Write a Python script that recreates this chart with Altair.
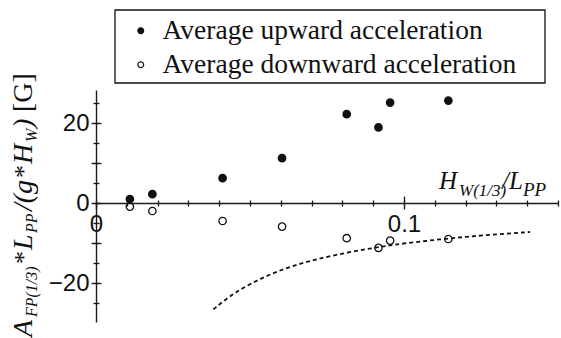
import altair as alt
import pandas as pd

# ---- data ----
series_names = ["Average upward acceleration", "Average downward acceleration"]
x_pts = [0.011, 0.0183, 0.0411, 0.0604, 0.0814, 0.0917, 0.0955, 0.1144]
y_up = [1.0, 2.2, 6.2, 11.2, 22.2, 18.9, 25.1, 25.6]
y_down = [-0.9, -2.0, -4.5, -5.9, -8.8, -11.2, -9.4, -9.0]
line_x = [0.0381, 0.0446, 0.0554, 0.0662, 0.0771, 0.0917, 0.0998, 0.1138, 0.1268, 0.1409]
line_y = [-26.6, -22.5, -18.0, -15.1, -13.0, -11.0, -10.1, -8.9, -8.0, -7.25]
x_minor_ticks = [round(i * 0.01, 2) for i in range(0, 16)]
x_major_ticks = [0.0, 0.1]
y_minor_ticks = [-25, -20, -15, -10, -5, 0, 5, 10, 15, 20, 25]
y_major_ticks = [-20, -10, 0, 10, 20]
x_domain = [0, 0.15]
y_domain = [-29.75, 28.25]

pts = pd.DataFrame({
    "x": x_pts + x_pts,
    "y": y_up + y_down,
    "series": [series_names[0]] * len(x_pts) + [series_names[1]] * len(x_pts),
})
curve = pd.DataFrame({"x": line_x, "y": line_y})

W, H = 462, 232
OX, OY = 96, 90  # plot origin in page pixels
X0 = 203 - OY   # pixel row of y=0 inside plot

xs = alt.Scale(domain=x_domain, nice=False, zero=False)
ys = alt.Scale(domain=y_domain, nice=False, zero=False)

AX = dict(grid=False, title=None, domainColor="#1a1a1a", tickColor="#1a1a1a",
          domainWidth=1.4, tickWidth=1.3, labelOverlap=False, labelFlush=False)

xa_minor_bottom = alt.Axis(orient="bottom", offset=-(H - X0), values=x_minor_ticks, tickSize=3,
                           labels=False, domain=True, **AX)
xa_minor_top = alt.Axis(orient="top", offset=-X0, values=x_minor_ticks, tickSize=3,
                        labels=False, domain=False, **AX)
xa_major_bottom = alt.Axis(orient="bottom", offset=-(H - X0), values=x_major_ticks, tickSize=6,
                           labels=True, domain=False, labelPadding=3,
                           labelFont="Liberation Sans", labelFontSize=24, labelColor="#111",
                           labelAlign="center",
                           labelExpr="datum.value == 0 ? '0' : (abs(datum.value - 0.1) < 1e-9 ? '0.1' : '')",
                           **AX)
xa_major_top = alt.Axis(orient="top", offset=-X0, values=[0.1], tickSize=7,
                        labels=False, domain=False, **AX)

ya_minor_left = alt.Axis(orient="left", values=y_minor_ticks, tickSize=3, labels=False, domain=True, **AX)
ya_major_left = alt.Axis(orient="left", values=y_major_ticks, tickSize=5, labels=True, domain=False,
                         labelPadding=2, labelFont="Liberation Sans", labelFontSize=24, labelColor="#111",
                         labelExpr="datum.value == 0 ? '0' : (datum.value == 20 ? '20' : (datum.value == -20 ? '\u221220' : ''))",
                         **AX)
ya_minor_right = alt.Axis(orient="right", offset=-W, values=y_minor_ticks, tickSize=3, labels=False,
                          domain=False, **AX)
ya_major_right = alt.Axis(orient="right", offset=-W, values=y_major_ticks, tickSize=5, labels=False,
                          domain=False, **AX)

line = alt.Chart(curve).mark_line(color="#111", strokeWidth=1.8, strokeDash=[4, 3],
                                  interpolate="basis").encode(
    x=alt.X("x:Q", scale=xs, axis=xa_minor_top),
    y=alt.Y("y:Q", scale=ys, axis=ya_minor_right),
)

points = alt.Chart(pts).mark_point(shape="circle", size=55, stroke="#111", strokeWidth=1.3,
                                   filled=False, opacity=1).encode(
    x=alt.X("x:Q", scale=xs, axis=xa_minor_bottom),
    y=alt.Y("y:Q", scale=ys, axis=ya_minor_left),
    fill=alt.Fill("series:N",
                  scale=alt.Scale(domain=series_names, range=["#111", "transparent"]),
                  legend=alt.Legend(title=None, orient="none", legendX=31, legendY=-73,
                                    labelFont="Liberation Serif", labelFontSize=27.5,
                                    labelColor="#111", labelLimit=600, symbolType="circle",
                                    symbolSize=34, symbolStrokeColor="#111", symbolStrokeWidth=1.2,
                                    labelOffset=8, rowPadding=5, padding=0)),
)

ghost1 = alt.Chart(curve).mark_line(opacity=0).encode(
    x=alt.X("x:Q", scale=xs, axis=xa_major_bottom),
    y=alt.Y("y:Q", scale=ys, axis=ya_major_left),
)
ghost2 = alt.Chart(curve).mark_line(opacity=0).encode(
    x=alt.X("x:Q", scale=xs, axis=xa_major_top),
    y=alt.Y("y:Q", scale=ys, axis=ya_major_right),
)

one = pd.DataFrame({"k": [0]})

legend_box = alt.Chart(one).mark_rect(fill="transparent", stroke="#111", strokeWidth=1.3).encode(
    x=alt.value(115 - OX), x2=alt.value(545 - OX), y=alt.value(10 - OY), y2=alt.value(83 - OY))

# title pieces: (text, page x, page y, size, italic)
y_title = [
    ("A", 32, 337, 28, True),
    ("FP(1/3)", 37, 317, 16, True),
    ("*", 32, 264, 26, False),
    ("L", 32, 250, 28, True),
    ("PP", 37, 233, 16, True),
    ("/(g", 32, 211, 28, True),
    ("*", 32, 178, 26, False),
    ("H", 32, 164, 28, True),
    ("W", 37, 142, 16, True),
    (")", 32, 128, 28, True),
    ("[G]", 32, 112, 28, False),
]
x_title = [
    ("H", 439, 189, 25, True),
    ("W(1/3)", 459, 196, 17, True),
    ("/L", 502, 189, 25, True),
    ("PP", 523, 196, 19, True),
]

texts = []
for t, px, py, fs, it in y_title:
    texts.append(alt.Chart(one).mark_text(
        text=t, font="Liberation Serif", fontSize=fs, fontStyle="italic" if it else "normal",
        angle=270, align="left", baseline="alphabetic", color="#111").encode(
        x=alt.value(px - OX), y=alt.value(py - OY)))
for t, px, py, fs, it in x_title:
    texts.append(alt.Chart(one).mark_text(
        text=t, font="Liberation Serif", fontSize=fs, fontStyle="italic" if it else "normal",
        align="left", baseline="alphabetic", color="#111").encode(
        x=alt.value(px - OX), y=alt.value(py - OY)))

chart = alt.layer(points, line, ghost1, ghost2, legend_box, *texts).resolve_axis(
    x="independent", y="independent"
).properties(
    width=W, height=H,
    autosize=alt.AutoSizeParams(type="none"),
    padding={"left": OX, "top": OY, "right": 561 - OX - W, "bottom": 338 - OY - H},
    background="white",
).configure_view(strokeWidth=0)

chart.save("out.html", embed_options={"renderer": "svg", "actions": False})
